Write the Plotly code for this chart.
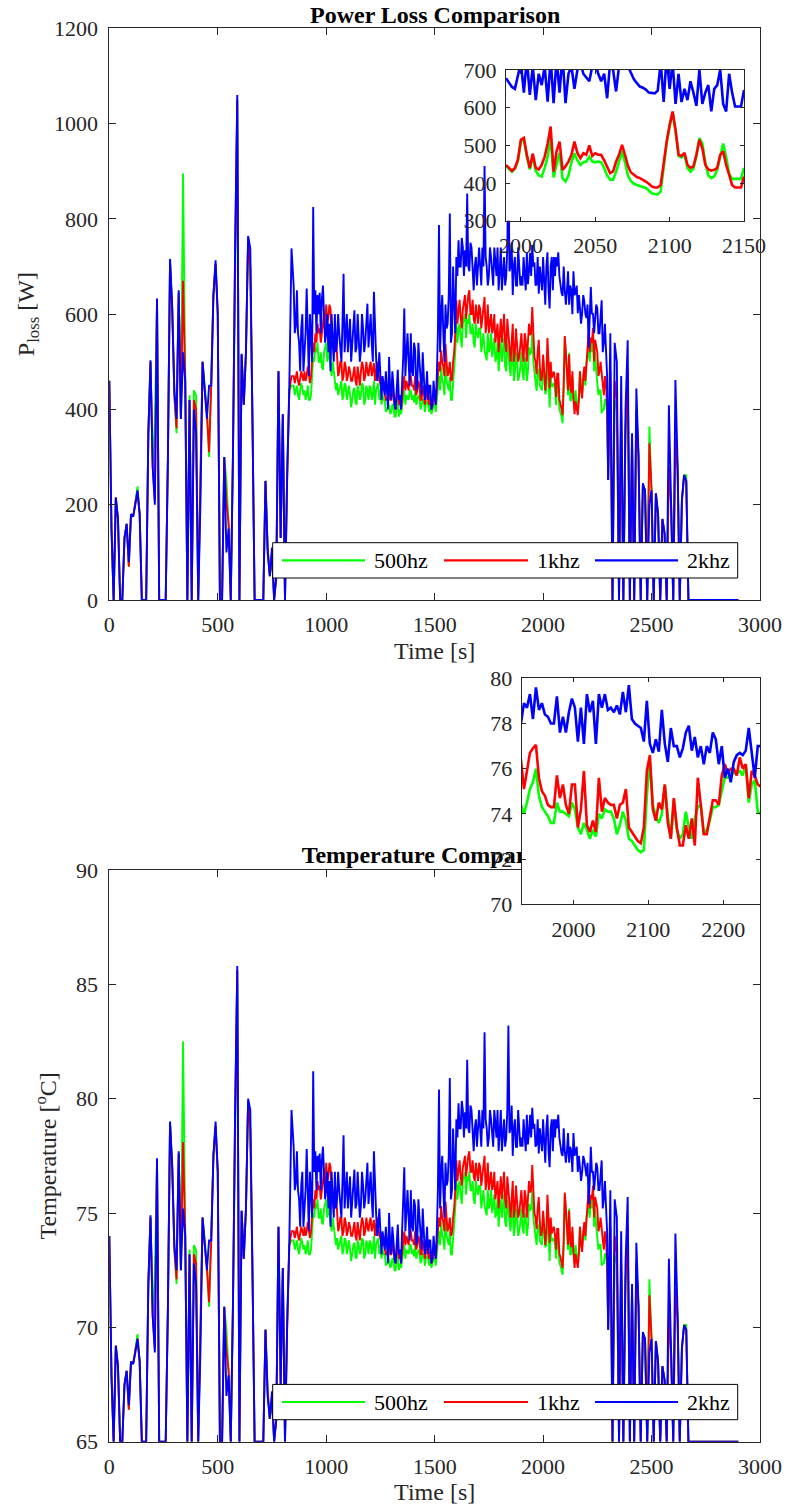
import plotly.graph_objects as go

W, H = 785, 1510

# ---------------- data ----------------
# coarse samples (every 10 s)
t_main = list(range(0, 2910, 10))

p_500hz = [
    460, 150, 0, 215, 170, 0, 0, 130, 160, 70,
    180, 175, 205, 238, 180, 0, 0, 0, 350, 500,
    290, 370, 630, 0, 0, 0, 0, 290, 710, 610,
    430, 350, 645, 380, 895, 470, 0, 430, 0, 440,
    430, 0, 300, 500, 450, 400, 300, 450, 640, 705,
    600, 0, 0, 300, 250, 160, 0, 300, 730, 1050,
    0, 515, 410, 520, 760, 694, 380, 0, 0, 0,
    0, 0, 250, 110, 50, 90, 0, 50, 480, 130,
    390, 0, 265, 440, 450, 450, 440, 430, 440, 445,
    440, 430, 420, 430, 510, 530, 540, 500, 490, 520,
    540, 520, 483, 500, 470, 455, 440, 460, 430, 450,
    440, 430, 420, 445, 410, 440, 430, 450, 420, 440,
    450, 420, 460, 440, 455, 440, 430, 420, 400, 410,
    395, 410, 385, 420, 400, 410, 440, 430, 420, 440,
    430, 440, 420, 425, 410, 420, 415, 410, 420, 400,
    410, 420, 470, 490, 455, 510, 450, 468, 420, 490,
    580, 570, 552, 580, 600, 590, 601, 560, 540, 580,
    550, 570, 540, 524, 503, 520, 560, 530, 500, 540,
    520, 500, 550, 480, 510, 470, 530, 480, 500, 470,
    520, 462, 500, 480, 515, 561, 474, 439, 485, 445,
    510, 432, 520, 404, 448, 455, 409, 455, 393, 371,
    550, 476, 519, 418, 425, 440, 403, 480, 434, 474,
    500, 540, 540, 560, 520, 459, 440, 392, 400, 420,
    252, 440, 0, 420, 398, 0, 380, 0, 350, 440,
    0, 330, 0, 398, 300, 0, 240, 230, 0, 364,
    230, 0, 224, 180, 0, 170, 140, 0, 280, 200,
    0, 340, 287, 0, 210, 262, 262, 0, 0, 0,
    0, 0, 0, 0, 0, 0, 0, 0, 0, 0,
    0, 0, 0, 0, 0, 0, 0, 0, 0, 0,
    0,
]

p_1khz = [
    460, 150, 0, 215, 170, 0, 0, 130, 160, 70,
    180, 175, 205, 228, 180, 0, 0, 0, 350, 500,
    280, 210, 630, 0, 0, 0, 0, 290, 710, 610,
    430, 360, 645, 380, 670, 460, 0, 420, 0, 420,
    400, 0, 250, 500, 440, 390, 310, 450, 640, 705,
    600, 0, 0, 300, 205, 160, 0, 300, 730, 1050,
    0, 515, 410, 520, 760, 700, 380, 0, 0, 0,
    0, 0, 250, 110, 50, 100, 0, 50, 480, 130,
    390, 0, 255, 440, 470, 470, 470, 460, 465, 470,
    480, 470, 475, 470, 540, 560, 580, 570, 560, 600,
    620, 594, 610, 560, 520, 500, 480, 500, 470, 490,
    470, 480, 460, 490, 450, 470, 480, 490, 470, 480,
    490, 470, 497, 490, 480, 455, 440, 430, 420, 440,
    420, 430, 400, 440, 420, 430, 470, 460, 440, 470,
    450, 470, 440, 450, 420, 440, 430, 420, 430, 410,
    420, 440, 500, 524, 490, 538, 470, 500, 462, 520,
    629, 600, 594, 610, 640, 620, 650, 600, 590, 620,
    580, 610, 590, 636, 580, 560, 600, 570, 540, 580,
    560, 540, 600, 520, 550, 500, 580, 520, 540, 510,
    560, 500, 545, 530, 556, 615, 510, 474, 546, 460,
    515, 440, 550, 444, 466, 479, 426, 475, 413, 388,
    554, 480, 515, 435, 422, 417, 388, 480, 423, 490,
    510, 561, 551, 571, 546, 520, 480, 470, 430, 455,
    252, 480, 0, 460, 420, 0, 400, 0, 360, 480,
    0, 340, 0, 400, 300, 0, 240, 230, 0, 329,
    230, 0, 224, 180, 0, 170, 140, 0, 280, 200,
    0, 340, 270, 0, 210, 262, 250, 0, 0, 0,
    0, 0, 0, 0, 0, 0, 0, 0, 0, 0,
    0, 0, 0, 0, 0, 0, 0, 0, 0, 0,
    0,
]

p_2khz = [
    460, 150, 0, 215, 170, 0, 0, 130, 160, 80,
    180, 175, 200, 230, 180, 0, 0, 0, 350, 503,
    280, 200, 633, 0, 0, 0, 0, 290, 716, 615,
    440, 380, 650, 380, 520, 460, 0, 420, 0, 400,
    350, 0, 200, 500, 440, 380, 450, 450, 640, 713,
    600, 0, 0, 300, 100, 150, 0, 300, 734, 1060,
    0, 517, 410, 520, 764, 738, 380, 0, 0, 0,
    0, 0, 250, 100, 50, 110, 0, 50, 480, 130,
    390, 0, 260, 450, 738, 660, 575, 560, 480, 600,
    520, 654, 470, 560, 825, 650, 640, 645, 630, 600,
    560, 520, 480, 540, 600, 540, 560, 500, 685, 560,
    520, 590, 540, 608, 530, 560, 525, 570, 540, 622,
    560, 540, 647, 510, 480, 455, 470, 430, 440, 510,
    420, 450, 400, 483, 430, 460, 612, 520, 500, 560,
    470, 525, 450, 500, 430, 470, 440, 420, 450, 410,
    430, 470, 787, 600, 560, 620, 580, 811, 560, 620,
    720, 755, 700, 740, 734, 853, 690, 740, 650, 720,
    690, 700, 740, 911, 700, 680, 720, 660, 700, 740,
    690, 650, 720, 680, 930, 700, 640, 720, 660, 700,
    680, 720, 650, 663, 729, 745, 709, 663, 643, 678,
    720, 620, 730, 612, 720, 720, 720, 730, 656, 638,
    650, 650, 620, 650, 690, 647, 602, 612, 602, 627,
    592, 530, 657, 602, 597, 612, 560, 629, 540, 520,
    252, 560, 0, 540, 500, 0, 470, 0, 400, 545,
    0, 350, 0, 444, 300, 0, 245, 230, 0, 200,
    230, 0, 224, 180, 0, 170, 140, 0, 409, 200,
    0, 462, 287, 0, 210, 262, 250, 0, 0, 0,
    0, 0, 0, 0, 0, 0, 0, 0, 0, 0,
    0, 0, 0, 0, 0, 0, 0, 0, 0, 0,
    0,
]

# extra samples in between (t = 855 ... 2295 s) for the dense part of the run
t_mid = list(range(855, 2300, 10))

p_500hz_mid = [
    430, 450, 420, 455, 430,
    420, 450, 420, 470, 500, 520, 500, 520, 483, 530,
    500, 510, 470, 480, 440, 430, 450, 420, 455, 420,
    450, 405, 440, 415, 450, 420, 455, 410, 450, 420,
    445, 430, 410, 450, 420, 410, 420, 395, 405, 390,
    410, 385, 405, 385, 390, 420, 410, 425, 440, 420,
    415, 410, 430, 400, 420, 395, 415, 395, 390, 410,
    395, 440, 440, 460, 430, 460, 440, 420, 450, 520,
    540, 580, 530, 590, 550, 580, 560, 580, 530, 560,
    570, 520, 560, 510, 560, 530, 510, 550, 510, 480,
    540, 530, 490, 540, 480, 510, 460, 520, 460, 490,
    480, 510, 460, 530, 520, 500, 460, 480, 450, 440,
    460, 440, 470, 470, 450, 440, 450, 400, 385, 440,
    515, 430, 420, 470, 410, 410, 430, 440, 460, 450,
    510, 500, 520, 480, 480, 430, 440, 400, 420, 390,
]

p_1khz_mid = [
    455, 480, 450, 480, 460,
    460, 490, 455, 500, 520, 540, 560, 540, 580, 560,
    580, 620, 560, 540, 560, 470, 500, 460, 500, 460,
    490, 460, 480, 460, 490, 450, 500, 460, 500, 470,
    500, 480, 460, 500, 460, 440, 460, 420, 430, 420,
    440, 410, 430, 410, 400, 450, 440, 450, 470, 450,
    440, 430, 460, 420, 450, 410, 440, 410, 400, 430,
    410, 470, 480, 500, 470, 500, 480, 460, 500, 560,
    580, 630, 570, 630, 590, 640, 600, 630, 580, 600,
    620, 570, 620, 560, 620, 580, 560, 600, 560, 520,
    590, 580, 540, 590, 530, 560, 500, 570, 500, 540,
    520, 560, 500, 580, 560, 540, 500, 520, 490, 470,
    480, 470, 500, 500, 475, 460, 475, 420, 400, 450,
    520, 440, 450, 480, 390, 400, 420, 440, 470, 460,
    530, 520, 540, 500, 530, 470, 500, 440, 470, 400,
]

p_2khz_mid = [
    560, 650, 540, 570, 480,
    560, 520, 600, 500, 600, 560, 600, 560, 660, 540,
    600, 580, 600, 500, 520, 600, 520, 580, 520, 600,
    560, 500, 580, 520, 600, 500, 600, 520, 580, 530,
    600, 500, 560, 460, 520, 420, 440, 480, 400, 440,
    480, 410, 440, 420, 400, 510, 470, 560, 450, 480,
    540, 440, 540, 460, 520, 420, 480, 450, 400, 460,
    410, 560, 520, 640, 500, 570, 640, 540, 700, 560,
    680, 700, 760, 680, 700, 700, 750, 680, 700, 660,
    740, 660, 700, 720, 660, 740, 690, 740, 680, 650,
    740, 700, 660, 740, 690, 750, 700, 660, 740, 660,
    660, 690, 730, 690, 680, 700, 660, 720, 700, 650,
    680, 700, 650, 700, 650, 680, 700, 680, 645, 700,
    620, 690, 660, 600, 640, 660, 640, 580, 640, 600,
    620, 580, 600, 560, 620, 560, 600, 520, 580, 470,
]

T_500hz = [
    74.0, 67.9, 65.0, 69.2, 68.3, 65.0, 65.0, 67.5, 68.1, 66.4,
    68.5, 68.4, 69.0, 69.7, 68.5, 65.0, 65.0, 65.0, 71.9, 74.8,
    70.7, 72.3, 77.3, 65.0, 65.0, 65.0, 65.0, 70.7, 78.9, 77.0,
    73.4, 71.9, 77.6, 72.5, 82.5, 74.2, 65.0, 73.4, 65.0, 73.6,
    73.4, 65.0, 70.9, 74.8, 73.8, 72.8, 70.9, 73.8, 77.5, 78.8,
    76.8, 65.0, 65.0, 70.9, 69.9, 68.1, 65.0, 70.9, 79.3, 85.6,
    65.0, 75.1, 73.0, 75.2, 79.9, 78.6, 72.5, 65.0, 65.0, 65.0,
    65.0, 65.0, 69.9, 67.2, 66.0, 66.8, 65.0, 66.0, 74.4, 67.5,
    72.6, 65.0, 70.2, 73.6, 73.8, 73.8, 73.6, 73.4, 73.6, 73.7,
    73.6, 73.4, 73.2, 73.4, 75.0, 75.4, 75.6, 74.8, 74.6, 75.2,
    75.6, 75.2, 74.5, 74.8, 74.2, 73.9, 73.6, 74.0, 73.4, 73.8,
    73.6, 73.4, 73.2, 73.7, 73.0, 73.6, 73.4, 73.8, 73.2, 73.6,
    73.8, 73.2, 74.0, 73.6, 73.9, 73.6, 73.4, 73.2, 72.8, 73.0,
    72.7, 73.0, 72.5, 73.2, 72.8, 73.0, 73.6, 73.4, 73.2, 73.6,
    73.4, 73.6, 73.2, 73.3, 73.0, 73.2, 73.1, 73.0, 73.2, 72.8,
    73.0, 73.2, 74.2, 74.6, 73.9, 75.0, 73.8, 74.2, 73.2, 74.6,
    76.4, 76.2, 75.8, 76.4, 76.8, 76.6, 76.8, 76.0, 75.6, 76.4,
    75.8, 76.2, 75.6, 75.3, 74.9, 75.2, 76.0, 75.4, 74.8, 75.6,
    75.2, 74.8, 75.8, 74.4, 75.0, 74.2, 75.4, 74.4, 74.8, 74.2,
    75.2, 74.1, 74.8, 74.4, 75.1, 76.0, 74.3, 73.6, 74.5, 73.7,
    75.0, 73.5, 75.2, 72.9, 73.8, 73.9, 73.0, 73.9, 72.7, 72.3,
    75.8, 74.3, 75.2, 73.2, 73.3, 73.6, 72.9, 74.4, 73.5, 74.3,
    74.8, 75.6, 75.6, 76.0, 75.2, 74.0, 73.6, 72.7, 72.8, 73.2,
    69.9, 73.6, 65.0, 73.2, 72.8, 65.0, 72.5, 65.0, 71.9, 73.6,
    65.0, 71.5, 65.0, 72.8, 70.9, 65.0, 69.7, 69.5, 65.0, 72.1,
    69.5, 65.0, 69.4, 68.5, 65.0, 68.3, 67.7, 65.0, 70.5, 68.9,
    65.0, 71.7, 70.6, 65.0, 69.1, 70.1, 70.1, 65.0, 65.0, 65.0,
    65.0, 65.0, 65.0, 65.0, 65.0, 65.0, 65.0, 65.0, 65.0, 65.0,
    65.0, 65.0, 65.0, 65.0, 65.0, 65.0, 65.0, 65.0, 65.0, 65.0,
    65.0,
]

T_1khz = [
    74.0, 67.9, 65.0, 69.2, 68.3, 65.0, 65.0, 67.5, 68.1, 66.4,
    68.5, 68.4, 69.0, 69.5, 68.5, 65.0, 65.0, 65.0, 71.9, 74.8,
    70.5, 69.1, 77.3, 65.0, 65.0, 65.0, 65.0, 70.7, 78.9, 77.0,
    73.4, 72.1, 77.6, 72.5, 78.1, 74.0, 65.0, 73.2, 65.0, 73.2,
    72.8, 65.0, 69.9, 74.8, 73.6, 72.6, 71.1, 73.8, 77.5, 78.8,
    76.8, 65.0, 65.0, 70.9, 69.0, 68.1, 65.0, 70.9, 79.3, 85.6,
    65.0, 75.1, 73.0, 75.2, 79.9, 78.7, 72.5, 65.0, 65.0, 65.0,
    65.0, 65.0, 69.9, 67.2, 66.0, 67.0, 65.0, 66.0, 74.4, 67.5,
    72.6, 65.0, 70.0, 73.6, 74.2, 74.2, 74.2, 74.0, 74.1, 74.2,
    74.4, 74.2, 74.3, 74.2, 75.6, 76.0, 76.4, 76.2, 76.0, 76.8,
    77.2, 76.6, 77.0, 76.0, 75.2, 74.8, 74.4, 74.8, 74.2, 74.6,
    74.2, 74.4, 74.0, 74.6, 73.8, 74.2, 74.4, 74.6, 74.2, 74.4,
    74.6, 74.2, 74.7, 74.6, 74.4, 73.9, 73.6, 73.4, 73.2, 73.6,
    73.2, 73.4, 72.8, 73.6, 73.2, 73.4, 74.2, 74.0, 73.6, 74.2,
    73.8, 74.2, 73.6, 73.8, 73.2, 73.6, 73.4, 73.2, 73.4, 73.0,
    73.2, 73.6, 74.8, 75.3, 74.6, 75.5, 74.2, 74.8, 74.1, 75.2,
    77.3, 76.8, 76.6, 77.0, 77.5, 77.2, 77.7, 76.8, 76.6, 77.2,
    76.4, 77.0, 76.6, 77.5, 76.4, 76.0, 76.8, 76.2, 75.6, 76.4,
    76.0, 75.6, 76.8, 75.2, 75.8, 74.8, 76.4, 75.2, 75.6, 75.0,
    76.0, 74.8, 75.7, 75.4, 75.9, 77.1, 75.0, 74.3, 75.7, 74.0,
    75.1, 73.6, 75.8, 73.7, 74.1, 74.4, 73.4, 74.3, 73.1, 72.6,
    75.9, 74.4, 75.1, 73.5, 73.3, 73.2, 72.6, 74.4, 73.3, 74.6,
    75.0, 76.0, 75.8, 76.2, 75.7, 75.2, 74.4, 74.2, 73.4, 73.9,
    69.9, 74.4, 65.0, 74.0, 73.2, 65.0, 72.8, 65.0, 72.1, 74.4,
    65.0, 71.7, 65.0, 72.8, 70.9, 65.0, 69.7, 69.5, 65.0, 71.4,
    69.5, 65.0, 69.4, 68.5, 65.0, 68.3, 67.7, 65.0, 70.5, 68.9,
    65.0, 71.7, 70.3, 65.0, 69.1, 70.1, 69.9, 65.0, 65.0, 65.0,
    65.0, 65.0, 65.0, 65.0, 65.0, 65.0, 65.0, 65.0, 65.0, 65.0,
    65.0, 65.0, 65.0, 65.0, 65.0, 65.0, 65.0, 65.0, 65.0, 65.0,
    65.0,
]

T_2khz = [
    74.0, 67.9, 65.0, 69.2, 68.3, 65.0, 65.0, 67.5, 68.1, 66.6,
    68.5, 68.4, 68.9, 69.5, 68.5, 65.0, 65.0, 65.0, 71.9, 74.9,
    70.5, 68.9, 77.4, 65.0, 65.0, 65.0, 65.0, 70.7, 79.0, 77.1,
    73.6, 72.5, 77.7, 72.5, 75.2, 74.0, 65.0, 73.2, 65.0, 72.8,
    71.9, 65.0, 68.9, 74.8, 73.6, 72.5, 73.8, 73.8, 77.5, 79.0,
    76.8, 65.0, 65.0, 70.9, 67.0, 67.9, 65.0, 70.9, 79.4, 85.8,
    65.0, 75.1, 73.0, 75.2, 80.0, 79.5, 72.5, 65.0, 65.0, 65.0,
    65.0, 65.0, 69.9, 67.0, 66.0, 67.2, 65.0, 66.0, 74.4, 67.5,
    72.6, 65.0, 70.1, 73.8, 79.5, 77.9, 76.3, 76.0, 74.4, 76.8,
    75.2, 77.8, 74.2, 76.0, 81.2, 77.7, 77.5, 77.6, 77.3, 76.8,
    76.0, 75.2, 74.4, 75.6, 76.8, 75.6, 76.0, 74.8, 78.4, 76.0,
    75.2, 76.6, 75.6, 76.9, 75.4, 76.0, 75.3, 76.2, 75.6, 77.2,
    76.0, 75.6, 77.7, 75.0, 74.4, 73.9, 74.2, 73.4, 73.6, 75.0,
    73.2, 73.8, 72.8, 74.5, 73.4, 74.0, 77.0, 75.2, 74.8, 76.0,
    74.2, 75.3, 73.8, 74.8, 73.4, 74.2, 73.6, 73.2, 73.8, 73.0,
    73.4, 74.2, 80.4, 76.8, 76.0, 77.2, 76.4, 80.9, 76.0, 77.2,
    79.1, 79.8, 78.7, 79.5, 79.4, 81.7, 78.5, 79.5, 77.7, 79.1,
    78.5, 78.7, 79.5, 82.9, 78.7, 78.3, 79.1, 77.9, 78.7, 79.5,
    78.5, 77.7, 79.1, 78.3, 83.2, 78.7, 77.5, 79.1, 77.9, 78.7,
    78.3, 79.1, 77.7, 78.0, 79.3, 79.6, 78.9, 78.0, 77.6, 78.3,
    79.1, 77.2, 79.3, 77.0, 79.1, 79.1, 79.1, 79.3, 77.9, 77.5,
    77.7, 77.7, 77.2, 77.7, 78.5, 77.7, 76.8, 77.0, 76.8, 77.3,
    76.6, 75.4, 77.9, 76.8, 76.7, 77.0, 76.0, 77.3, 75.6, 75.2,
    69.9, 76.0, 65.0, 75.6, 74.8, 65.0, 74.2, 65.0, 72.8, 75.7,
    65.0, 71.9, 65.0, 73.7, 70.9, 65.0, 69.8, 69.5, 65.0, 68.9,
    69.5, 65.0, 69.4, 68.5, 65.0, 68.3, 67.7, 65.0, 73.0, 68.9,
    65.0, 74.1, 70.6, 65.0, 69.1, 70.1, 69.9, 65.0, 65.0, 65.0,
    65.0, 65.0, 65.0, 65.0, 65.0, 65.0, 65.0, 65.0, 65.0, 65.0,
    65.0, 65.0, 65.0, 65.0, 65.0, 65.0, 65.0, 65.0, 65.0, 65.0,
    65.0,
]

T_500hz_mid = [
    73.4, 73.8, 73.2, 73.9, 73.4,
    73.2, 73.8, 73.2, 74.2, 74.8, 75.2, 74.8, 75.2, 74.5, 75.4,
    74.8, 75.0, 74.2, 74.4, 73.6, 73.4, 73.8, 73.2, 73.9, 73.2,
    73.8, 72.9, 73.6, 73.1, 73.8, 73.2, 73.9, 73.0, 73.8, 73.2,
    73.7, 73.4, 73.0, 73.8, 73.2, 73.0, 73.2, 72.7, 72.9, 72.6,
    73.0, 72.5, 72.9, 72.5, 72.6, 73.2, 73.0, 73.3, 73.6, 73.2,
    73.1, 73.0, 73.4, 72.8, 73.2, 72.7, 73.1, 72.7, 72.6, 73.0,
    72.7, 73.6, 73.6, 74.0, 73.4, 74.0, 73.6, 73.2, 73.8, 75.2,
    75.6, 76.4, 75.4, 76.6, 75.8, 76.4, 76.0, 76.4, 75.4, 76.0,
    76.2, 75.2, 76.0, 75.0, 76.0, 75.4, 75.0, 75.8, 75.0, 74.4,
    75.6, 75.4, 74.6, 75.6, 74.4, 75.0, 74.0, 75.2, 74.0, 74.6,
    74.4, 75.0, 74.0, 75.4, 75.2, 74.8, 74.0, 74.4, 73.8, 73.6,
    74.0, 73.6, 74.2, 74.2, 73.8, 73.6, 73.8, 72.8, 72.5, 73.6,
    75.1, 73.4, 73.2, 74.2, 73.0, 73.0, 73.4, 73.6, 74.0, 73.8,
    75.0, 74.8, 75.2, 74.4, 74.4, 73.4, 73.6, 72.8, 73.2, 72.6,
]

T_1khz_mid = [
    73.9, 74.4, 73.8, 74.4, 74.0,
    74.0, 74.6, 73.9, 74.8, 75.2, 75.6, 76.0, 75.6, 76.4, 76.0,
    76.4, 77.2, 76.0, 75.6, 76.0, 74.2, 74.8, 74.0, 74.8, 74.0,
    74.6, 74.0, 74.4, 74.0, 74.6, 73.8, 74.8, 74.0, 74.8, 74.2,
    74.8, 74.4, 74.0, 74.8, 74.0, 73.6, 74.0, 73.2, 73.4, 73.2,
    73.6, 73.0, 73.4, 73.0, 72.8, 73.8, 73.6, 73.8, 74.2, 73.8,
    73.6, 73.4, 74.0, 73.2, 73.8, 73.0, 73.6, 73.0, 72.8, 73.4,
    73.0, 74.2, 74.4, 74.8, 74.2, 74.8, 74.4, 74.0, 74.8, 76.0,
    76.4, 77.3, 76.2, 77.3, 76.6, 77.5, 76.8, 77.3, 76.4, 76.8,
    77.2, 76.2, 77.2, 76.0, 77.2, 76.4, 76.0, 76.8, 76.0, 75.2,
    76.6, 76.4, 75.6, 76.6, 75.4, 76.0, 74.8, 76.2, 74.8, 75.6,
    75.2, 76.0, 74.8, 76.4, 76.0, 75.6, 74.8, 75.2, 74.6, 74.2,
    74.4, 74.2, 74.8, 74.8, 74.3, 74.0, 74.3, 73.2, 72.8, 73.8,
    75.2, 73.6, 73.8, 74.4, 72.6, 72.8, 73.2, 73.6, 74.2, 74.0,
    75.4, 75.2, 75.6, 74.8, 75.4, 74.2, 74.8, 73.6, 74.2, 72.8,
]

T_2khz_mid = [
    76.0, 77.7, 75.6, 76.2, 74.4,
    76.0, 75.2, 76.8, 74.8, 76.8, 76.0, 76.8, 76.0, 77.9, 75.6,
    76.8, 76.4, 76.8, 74.8, 75.2, 76.8, 75.2, 76.4, 75.2, 76.8,
    76.0, 74.8, 76.4, 75.2, 76.8, 74.8, 76.8, 75.2, 76.4, 75.4,
    76.8, 74.8, 76.0, 74.0, 75.2, 73.2, 73.6, 74.4, 72.8, 73.6,
    74.4, 73.0, 73.6, 73.2, 72.8, 75.0, 74.2, 76.0, 73.8, 74.4,
    75.6, 73.6, 75.6, 74.0, 75.2, 73.2, 74.4, 73.8, 72.8, 74.0,
    73.0, 76.0, 75.2, 77.5, 74.8, 76.2, 77.5, 75.6, 78.7, 76.0,
    78.3, 78.7, 79.9, 78.3, 78.7, 78.7, 79.7, 78.3, 78.7, 77.9,
    79.5, 77.9, 78.7, 79.1, 77.9, 79.5, 78.5, 79.5, 78.3, 77.7,
    79.5, 78.7, 77.9, 79.5, 78.5, 79.7, 78.7, 77.9, 79.5, 77.9,
    77.9, 78.5, 79.3, 78.5, 78.3, 78.7, 77.9, 79.1, 78.7, 77.7,
    78.3, 78.7, 77.7, 78.7, 77.7, 78.3, 78.7, 78.3, 77.6, 78.7,
    77.2, 78.5, 77.9, 76.8, 77.5, 77.9, 77.5, 76.4, 77.5, 76.8,
    77.2, 76.4, 76.8, 76.0, 77.2, 76.0, 76.8, 75.2, 76.4, 74.2,
]

# zoomed window of the power loss (inset 1)
t_zoom_p = list(range(1990, 2152, 2))
pz_500hz = [
    445, 437, 430, 438, 458, 510, 515, 470, 436, 470,
    432, 420, 417, 440, 470, 520, 415, 450, 480, 413,
    404, 420, 455, 479, 460, 448, 455, 457, 470, 457,
    455, 457, 455, 440, 420, 409, 409, 430, 455, 484,
    455, 420, 405, 398, 395, 393, 390, 387, 380, 373,
    371, 370, 378, 440, 505, 550, 588, 538, 472, 468,
    476, 440, 430, 438, 472, 519, 505, 455, 420, 413,
    418, 435, 470, 505, 470, 425, 411, 411, 411, 411,
    440,
]
pz_1khz = [
    448, 440, 432, 440, 462, 515, 520, 475, 440, 478,
    440, 436, 448, 470, 505, 550, 430, 484, 510, 435,
    444, 457, 475, 510, 480, 466, 479, 475, 500, 472,
    479, 475, 475, 460, 444, 426, 431, 457, 475, 501,
    475, 445, 428, 422, 416, 413, 409, 404, 398, 391,
    388, 388, 395, 457, 510, 554, 590, 540, 475, 472,
    480, 448, 440, 444, 475, 515, 492, 448, 436, 433,
    435, 440, 475, 484, 448, 422, 395, 388, 388, 388,
    417,
]
pz_2khz = [
    678, 665, 655, 650, 690, 720, 640, 730, 634, 710,
    620, 690, 660, 710, 616, 730, 612, 730, 640, 740,
    612, 690, 710, 650, 700, 720, 690, 680, 670, 710,
    720, 690, 670, 690, 625, 720, 700, 643, 710, 720,
    730, 710, 690, 675, 665, 656, 653, 648, 640, 638,
    638, 645, 720, 615, 740, 650, 720, 610, 690, 615,
    650, 620, 670, 640, 605, 700, 610, 640, 660, 590,
    650, 660, 700, 610, 590, 690, 640, 603, 603, 603,
    647,
]

# zoomed window of the temperature (inset 2)
t_zoom_T = list(range(1930, 2254, 4))
Tz_500hz = [
    74.4, 74.0, 74.5, 75.1, 75.4, 76.0, 74.8, 74.3, 74.1, 73.9,
    73.6, 73.6, 74.5, 74.1, 74.1, 74.0, 73.9, 74.5, 74.2, 73.4,
    73.1, 73.6, 73.3, 72.9, 73.3, 73.0, 74.0, 73.8, 74.2, 74.1,
    74.1, 73.8, 73.1, 73.5, 74.1, 73.7, 72.9, 72.8, 72.6, 72.4,
    72.3, 72.4, 74.8, 76.4, 74.4, 73.9, 73.6, 74.0, 75.3, 73.9,
    72.9, 74.6, 73.3, 72.9, 73.1, 74.1, 73.4, 72.9, 73.8, 74.3,
    74.4, 73.1, 73.3, 73.7, 74.3, 74.3, 74.4, 75.0, 75.6, 75.6,
    75.8, 75.8, 75.8, 75.9, 75.7, 76.2, 74.5, 75.3, 75.5, 74.1,
    74.0,
]
Tz_1khz = [
    76.4, 75.1, 75.9, 76.7, 76.9, 77.05, 75.6, 75.0, 74.8, 74.4,
    74.3, 74.3, 75.7, 74.7, 75.3, 74.4, 74.0, 75.3, 75.3, 73.4,
    74.2, 75.9, 73.5, 73.2, 73.7, 73.2, 75.6, 74.1, 74.7, 74.5,
    74.4, 74.4, 73.8, 74.4, 74.5, 75.1, 73.4, 73.2, 73.0, 72.8,
    72.7, 73.4, 75.9, 76.6, 74.2, 73.7, 74.5, 74.2, 75.3, 73.6,
    72.9, 74.7, 73.4, 72.6, 72.6, 73.5, 72.9, 73.8, 72.6, 75.6,
    74.4, 73.1, 73.1, 73.8, 74.6, 74.6, 74.4, 75.7, 76.2, 75.8,
    76.0, 76.0, 75.7, 76.5, 76.0, 76.2, 74.7, 75.9, 75.7, 75.3,
    75.2,
]
Tz_2khz = [
    78.0, 78.9, 78.7, 79.3, 78.2, 79.6, 78.6, 78.9, 78.4, 78.3,
    78.0, 78.0, 79.2, 77.6, 78.3, 77.6, 78.5, 79.1, 78.7, 77.2,
    78.7, 77.1, 79.3, 78.5, 79.0, 77.1, 79.3, 78.7, 79.3, 78.6,
    78.7, 78.5, 78.8, 78.4, 79.4, 78.5, 79.7, 78.2, 78.0, 77.9,
    77.8, 77.2, 79.0, 77.1, 76.7, 77.3, 76.75, 78.6, 77.1, 76.3,
    77.8, 77.0, 77.0, 76.5, 76.9, 77.6, 77.9, 76.8, 77.4, 76.5,
    77.0, 76.2, 77.0, 76.7, 77.6, 77.3, 76.2, 77.0, 75.6, 76.0,
    75.4, 76.3, 76.6, 76.7, 76.6, 76.8, 77.8, 76.7, 75.6, 77.0,
    77.0,
]

series_names = ["500hz", "1khz", "2khz"]
series_colors = ["#00ff00", "#ff0000", "#0000ff"]
x_ticks_main = [0, 500, 1000, 1500, 2000, 2500, 3000]


def merge(t_a, y_a, t_b, y_b):
    pts = sorted(zip(list(t_a) + list(t_b), list(y_a) + list(y_b)))
    return [p[0] for p in pts], [p[1] for p in pts]


# ---------------- figure ----------------
FONT = "Liberation Serif"
AX_COL = "#262626"


def px_x(p):
    return p / W


def px_y(p):
    return 1 - p / H


fig = go.Figure()


def add_series(tt, ys, xa, ya, width):
    for name, col, y in zip(series_names, series_colors, ys):
        fig.add_trace(go.Scatter(
            x=tt, y=y, mode="lines", name=name,
            line=dict(color=col, width=width),
            xaxis=xa, yaxis=ya, showlegend=False, hoverinfo="skip"))


# full-range panels (main + in-between samples)
for main_set, mid_set, xa, ya in [
        ((p_500hz, p_1khz, p_2khz), (p_500hz_mid, p_1khz_mid, p_2khz_mid), "x", "y"),
        ((T_500hz, T_1khz, T_2khz), (T_500hz_mid, T_1khz_mid, T_2khz_mid), "x2", "y2")]:
    ys = []
    for a, b in zip(main_set, mid_set):
        tt, yy = merge(t_main, a, t_mid, b)
        ys.append(yy)
    add_series(tt, ys, xa, ya, 1.9)

# title band of the temperature panel (drawn below the inset, which hides its end)
fig.add_trace(go.Scatter(
    x=[1500], y=[0.5], mode="text", text=["<b>Temperature Comparison</b>"],
    textposition="middle center",
    textfont=dict(family=FONT, size=24, color="black"),
    xaxis="x3", yaxis="y3", cliponaxis=False, showlegend=False, hoverinfo="skip"))

# insets
add_series(t_zoom_p, [pz_500hz, pz_1khz, pz_2khz], "x4", "y4", 2.6)
add_series(t_zoom_T, [Tz_500hz, Tz_1khz, Tz_2khz], "x5", "y5", 2.6)

common = dict(showgrid=False, zeroline=False, showline=True, linecolor=AX_COL,
              linewidth=1, mirror="ticks", ticks="inside", tickcolor=AX_COL,
              automargin=False,
              tickfont=dict(family=FONT, size=22, color=AX_COL))

hidden = dict(visible=False, showgrid=False, zeroline=False, automargin=False)

main_x = [px_x(109.3), px_x(760)]

fig.update_layout(
    width=W, height=H, margin=dict(l=0, r=0, t=0, b=0),
    paper_bgcolor="white", plot_bgcolor="white",
    font=dict(family=FONT, color=AX_COL),
    xaxis=dict(domain=main_x, range=[0, 3000], tickvals=x_ticks_main, ticklen=7,
               anchor="y", ticklabelstandoff=5,
               title=dict(text="Time [s]", font=dict(size=24, color=AX_COL), standoff=5),
               **common),
    yaxis=dict(domain=[px_y(600), px_y(28.3)], range=[0, 1200], dtick=200, ticklen=7,
               anchor="x", ticklabelstandoff=6,
               title=dict(text="P<sub>loss</sub> [W]", font=dict(size=24, color=AX_COL), standoff=12),
               **common),
    xaxis2=dict(domain=main_x, range=[0, 3000], tickvals=x_ticks_main, ticklen=7,
                anchor="y2", ticklabelstandoff=5,
                title=dict(text="Time [s]", font=dict(size=24, color=AX_COL), standoff=5),
                **common),
    yaxis2=dict(domain=[px_y(1441.7), px_y(870)], range=[65, 90], dtick=5, ticklen=7,
                anchor="x2", ticklabelstandoff=6,
                title=dict(text="Temperature [<sup>o</sup>C]", font=dict(size=24, color=AX_COL), standoff=12),
                **common),
    xaxis3=dict(domain=main_x, range=[0, 3000], anchor="y3", **hidden),
    yaxis3=dict(domain=[px_y(869), px_y(845)], range=[0, 1], anchor="x3", **hidden),
    xaxis4=dict(domain=[px_x(506), px_x(744)], range=[1990, 2150],
                tickvals=[2000, 2050, 2100, 2150], ticklen=4, anchor="y4",
                ticklabelstandoff=5, **common),
    yaxis4=dict(domain=[px_y(220.7), px_y(70)], range=[300, 700], dtick=100, ticklen=4,
                anchor="x4", ticklabelstandoff=4, **common),
    xaxis5=dict(domain=[px_x(521.7), px_x(760)], range=[1931, 2249],
                tickvals=[2000, 2100, 2200], ticklen=4, anchor="y5",
                ticklabelstandoff=5, **common),
    yaxis5=dict(domain=[px_y(904.3), px_y(678.3)], range=[70, 80], dtick=2, ticklen=4,
                anchor="x5", ticklabelstandoff=4, **common),
)

# title of the power panel
fig.add_annotation(x=px_x(434.6), y=px_y(15.5), xref="paper", yref="paper",
                   text="<b>Power Loss Comparison</b>", showarrow=False,
                   xanchor="center", yanchor="middle",
                   font=dict(family=FONT, size=24, color="black"))

# legends (one per main panel)
shapes = []
for dy in (0, 841.7):
    y0, y1, yc = 542.7 + dy, 578 + dy, 560.3 + dy
    shapes.append(dict(type="rect", xref="paper", yref="paper",
                       x0=px_x(272.7), x1=px_x(737.7), y0=px_y(y1), y1=px_y(y0),
                       fillcolor="white", line=dict(color="black", width=1), layer="above"))
    for (lx0, lx1, tx), name, col in zip([(282, 365, 372), (444, 528, 535), (595, 678, 685)],
                                         series_names, series_colors):
        shapes.append(dict(type="line", xref="paper", yref="paper",
                           x0=px_x(lx0), x1=px_x(lx1), y0=px_y(yc), y1=px_y(yc),
                           line=dict(color=col, width=2.2), layer="above"))
        fig.add_annotation(x=px_x(tx), y=px_y(yc + 0.5), xref="paper", yref="paper",
                           text=name, showarrow=False, xanchor="left", yanchor="middle",
                           font=dict(family=FONT, size=22, color="black"))
fig.update_layout(shapes=shapes)

fig.write_html("out.html")
